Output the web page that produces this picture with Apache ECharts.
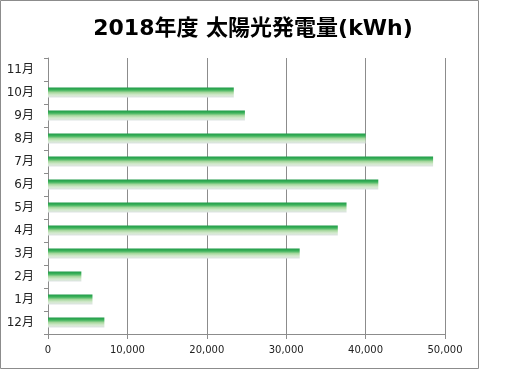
<!DOCTYPE html>
<html><head><meta charset="utf-8">
<script src="https://cdn.jsdelivr.net/npm/echarts@6/dist/echarts.min.js"></script>
<style>html,body{margin:0;padding:0;background:#fff}#c{width:512px;height:384px}</style>
</head><body><div id="c"></div>
<script>
const titleText = '2018年度 太陽光発電量(kWh)';
const months = ['12月','1月','2月','3月','4月','5月','6月','7月','8月','9月','10月','11月'];
const power = [7100, 5600, 4200, 31700, 36500, 37600, 41600, 48500, 40000, 24800, 23400, null];
const xTicks = [0, 10000, 20000, 30000, 40000, 50000];

const chart = echarts.init(document.getElementById('c'), null, {renderer:'canvas'});
const gray = '#8c8c8c';
chart.setOption({
  animation:false,
  backgroundColor:'#ffffff',
  title:{text:titleText,left:248,top:13,textAlign:'center',
    textStyle:{fontFamily:'"DejaVu Sans", "Noto Sans CJK JP"',fontSize:22,fontWeight:'bold',color:'#000'}},
  graphic:[{type:'rect',shape:{x:0.5,y:0.5,width:478,height:368},
    style:{fill:'none',stroke:gray,lineWidth:1},silent:true}],
  grid:{left:48,right:67,top:58,bottom:50,containLabel:false},
  xAxis:{type:'value',min:xTicks[0],max:xTicks[xTicks.length-1],interval:10000,
    axisLine:{show:true,lineStyle:{color:gray}},
    axisTick:{show:true,length:5,lineStyle:{color:gray}},
    splitLine:{show:true,lineStyle:{color:gray,width:1}},
    axisLabel:{margin:11,fontFamily:'DejaVu Sans',fontSize:10,color:'#222',
      formatter:v=>v.toLocaleString('en-US')}},
  yAxis:{type:'category',data:months,
    axisLine:{show:true,lineStyle:{color:gray}},
    axisTick:{show:true,length:4,alignWithLabel:false,lineStyle:{color:gray}},
    axisLabel:{margin:14,fontFamily:'"DejaVu Sans", "Noto Sans CJK JP"',fontSize:12,color:'#222'}},
  series:[{type:'bar',data:power,barWidth:10,
    itemStyle:{color:new echarts.graphic.LinearGradient(0,0,0,1,[
      {offset:0,color:'#1f9a48'},{offset:0.25,color:'#3db35b'},
      {offset:0.5,color:'#a6d89e'},{offset:0.75,color:'#d5eacf'},{offset:1,color:'#dde3e3'}])}}]
});
</script></body></html>
